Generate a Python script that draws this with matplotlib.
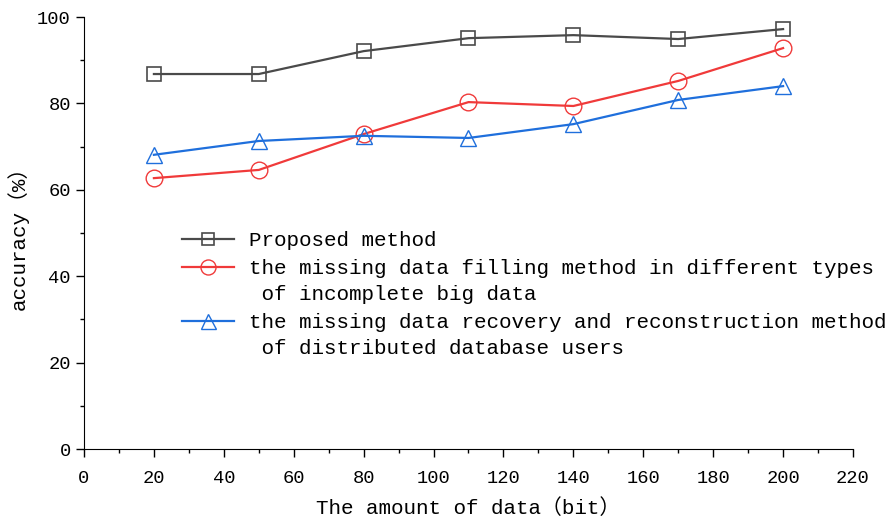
import matplotlib
matplotlib.use("Agg")
import matplotlib.pyplot as plt
from matplotlib.ticker import MultipleLocator

x = [20, 50, 80, 110, 140, 170, 200]
proposed = [86.8, 86.8, 92.1, 95.1, 95.8, 94.9, 97.2]
filling = [62.7, 64.6, 72.9, 80.3, 79.4, 85.2, 92.8]
recovery = [68.1, 71.3, 72.5, 72.0, 75.2, 80.8, 84.0]
labels = [
    "Proposed method",
    "the missing data filling method in different types\n of incomplete big data",
    "the missing data recovery and reconstruction method\n of distributed database users",
]

plt.rcParams['font.family'] = ['Liberation Mono', 'Noto Sans CJK SC', 'DejaVu Sans']

fig = plt.figure(figsize=(8.87, 5.23), dpi=100)
ax = fig.add_axes([84/887, 1-449/523, (853-84)/887, (449-17)/523])

ax.plot(x, proposed, color='#4a4a4a', lw=1.6, marker='s', ms=10, mfc='none', mec='#4a4a4a', mew=1.2, label=labels[0])
ax.plot(x, filling, color='#f03a3a', lw=1.6, marker='o', ms=12, mfc='none', mec='#f03a3a', mew=1.0, label=labels[1])
ax.plot(x, recovery, color='#1f6fdc', lw=1.6, marker='^', ms=12, mfc='none', mec='#1f6fdc', mew=1.0, label=labels[2])

ax.set_xlim(0, 220)
ax.set_ylim(0, 100)
ax.xaxis.set_major_locator(MultipleLocator(20))
ax.xaxis.set_minor_locator(MultipleLocator(10))
ax.yaxis.set_major_locator(MultipleLocator(20))
ax.yaxis.set_minor_locator(MultipleLocator(10))
ax.spines['top'].set_visible(False)
ax.spines['right'].set_visible(False)
ax.tick_params(which='major', direction='out', length=6, width=1, labelsize=13.5)
ax.tick_params(axis='x', which='major', pad=9)
ax.tick_params(which='minor', direction='out', length=3, width=1)
ax.set_xlabel("The amount of data（bit）", fontsize=15, labelpad=8)
ax.set_ylabel("accuracy（%）", fontsize=15, labelpad=6)

leg = ax.legend(loc='upper left', bbox_to_anchor=(182/887, 1-231/523), bbox_transform=fig.transFigure,
                frameon=False, fontsize=15, handlelength=2.5, handletextpad=0.7, handleheight=1.0,
                labelspacing=0.42, borderpad=0, borderaxespad=0, markerscale=0.9)
for t in leg.get_texts():
    t.set_linespacing(1.47)
for col in leg._legend_handle_box.get_children():
    for item in col.get_children():
        item.align = 'top'

fig.savefig("out.png", dpi=100)
